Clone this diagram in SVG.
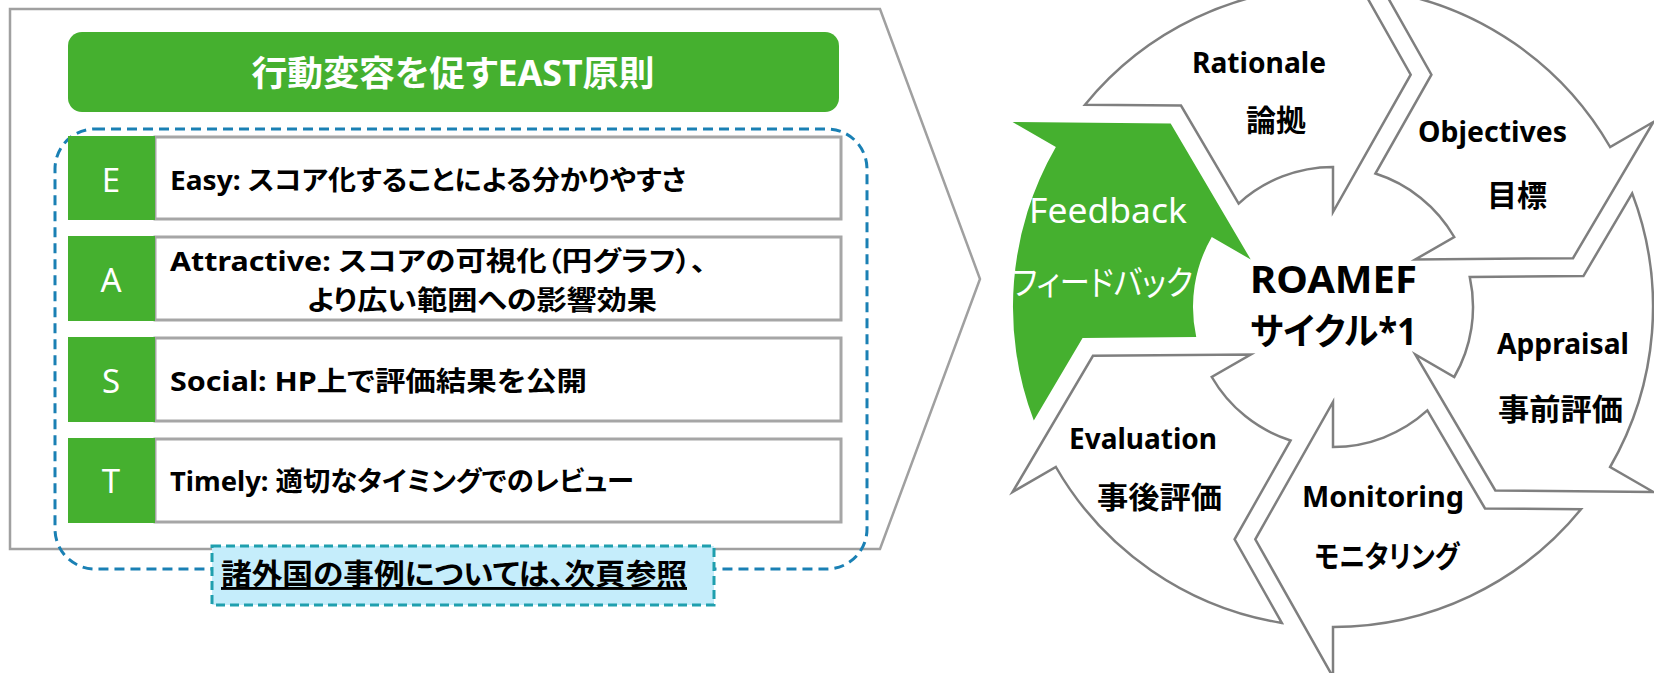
<svg xmlns="http://www.w3.org/2000/svg" xmlns:xlink="http://www.w3.org/1999/xlink" width="1654" height="673" viewBox="0 0 1654 673">
<style>
  .jp { font-family: "Noto Sans", "Noto Sans CJK JP", sans-serif; font-feature-settings: "palt"; }
  .b { font-weight: 700; }
  .rowtxt { font-size: 27px; fill: #000; }
  .letter { font-family: "Noto Sans", sans-serif; font-size: 33px; fill: #fff; text-anchor: middle; }
  .lbl { font-size: 28px; fill: #000; text-anchor: middle; }
  .lblj { font-size: 30px; fill: #000; text-anchor: middle; }
  .green { fill: #45b02f; }
  .rowbox { fill: #fff; stroke: #a6a6a6; stroke-width: 3; }
  .seg { fill: #fff; stroke: #7f7f7f; stroke-width: 2.5; stroke-linejoin: miter; }
  .segg { fill: #45b02f; stroke: none; }
</style>
<defs>
  <path id="arrow" d="M-248,-202.3 A320,320 0 0 1 0,-320 L0,-370 L77.7,-232.3 L0,-95 L0,-140 A140,140 0 0 0 -94.35,-103.45 L-152,-201.4 Z"/>
</defs>
<rect x="0" y="0" width="1654" height="673" fill="#fff"/>

<g id="east-panel">
  <polygon points="10,9 880,9 980,279 880,549 10,549" fill="#fff" stroke="#a0a0a0" stroke-width="2.5"/>
</g>

<g id="title">
  <rect x="68" y="32" width="771" height="80" rx="14" class="green"/>
  <text x="453" y="86" class="jp b" font-size="35" fill="#fff" text-anchor="middle" textLength="403" lengthAdjust="spacingAndGlyphs">行動変容を促すEAST原則</text>
</g>

<g id="east-frame">
  <rect x="55" y="129" width="812" height="440" rx="40" fill="none" stroke="#1a80b4" stroke-width="3" stroke-dasharray="10 6"/>
</g>

<g id="row-e">
  <rect x="155" y="137" width="686" height="82" class="rowbox"/>
  <rect x="68" y="136" width="87" height="84" class="green"/>
  <text x="111" y="192" class="letter">E</text>
  <text x="170" y="190" class="jp b rowtxt" textLength="516" lengthAdjust="spacingAndGlyphs">Easy: スコア化することによる分かりやすさ</text>
</g>

<g id="row-a">
  <rect x="155" y="237" width="686" height="83" class="rowbox"/>
  <rect x="68" y="236" width="87" height="85" class="green"/>
  <text x="111" y="292" class="letter">A</text>
  <text x="170" y="271" class="jp b rowtxt" textLength="536" lengthAdjust="spacingAndGlyphs">Attractive: スコアの可視化（円グラフ）、</text>
  <text x="307" y="310" class="jp b rowtxt" textLength="350" lengthAdjust="spacingAndGlyphs">より広い範囲への影響効果</text>
</g>

<g id="row-s">
  <rect x="155" y="338" width="686" height="83" class="rowbox"/>
  <rect x="68" y="337" width="87" height="85" class="green"/>
  <text x="111" y="393" class="letter">S</text>
  <text x="170" y="391" class="jp b rowtxt" textLength="417" lengthAdjust="spacingAndGlyphs">Social: HP上で評価結果を公開</text>
</g>

<g id="row-t">
  <rect x="155" y="439" width="686" height="83" class="rowbox"/>
  <rect x="68" y="438" width="87" height="85" class="green"/>
  <text x="111" y="493" class="letter">T</text>
  <text x="170" y="491" class="jp b rowtxt" textLength="464" lengthAdjust="spacingAndGlyphs">Timely: 適切なタイミングでのレビュー</text>
</g>

<g id="note">
  <rect x="212" y="546" width="502" height="59" fill="#c5edfb" stroke="#1f9fae" stroke-width="3" stroke-dasharray="9 5"/>
  <text x="221" y="585" class="jp b" font-size="29" fill="#000" text-decoration="underline" style="text-decoration:underline" textLength="466" lengthAdjust="spacingAndGlyphs">諸外国の事例については、次頁参照</text>
</g>

<g id="rationale">
  <use xlink:href="#arrow" href="#arrow" class="seg" transform="translate(1333 307)"/>
  <text x="1259" y="73" class="jp b lbl" textLength="134" lengthAdjust="spacingAndGlyphs">Rationale</text>
  <text x="1276" y="131" class="jp b lblj">論拠</text>
</g>

<g id="objectives">
  <use xlink:href="#arrow" href="#arrow" class="seg" transform="translate(1333 307) rotate(60)"/>
  <text x="1492.5" y="142" class="jp b lbl" textLength="149" lengthAdjust="spacingAndGlyphs">Objectives</text>
  <text x="1517" y="206" class="jp b lblj">目標</text>
</g>

<g id="appraisal">
  <use xlink:href="#arrow" href="#arrow" class="seg" transform="translate(1333 307) rotate(120)"/>
  <text x="1563" y="354" class="jp b lbl" textLength="132" lengthAdjust="spacingAndGlyphs">Appraisal</text>
  <text x="1560.5" y="420" class="jp b lblj" textLength="125" lengthAdjust="spacingAndGlyphs">事前評価</text>
</g>

<g id="monitoring">
  <use xlink:href="#arrow" href="#arrow" class="seg" transform="translate(1333 307) rotate(180)"/>
  <text x="1383" y="507" class="jp b lbl" textLength="162" lengthAdjust="spacingAndGlyphs">Monitoring</text>
  <text x="1387" y="567" class="jp b lblj" textLength="145" lengthAdjust="spacingAndGlyphs">モニタリング</text>
</g>

<g id="evaluation">
  <use xlink:href="#arrow" href="#arrow" class="seg" transform="translate(1333 307) rotate(240)"/>
  <text x="1143" y="449" class="jp b lbl" textLength="148" lengthAdjust="spacingAndGlyphs">Evaluation</text>
  <text x="1159.5" y="508" class="jp b lblj" textLength="125" lengthAdjust="spacingAndGlyphs">事後評価</text>
</g>

<g id="feedback">
  <use xlink:href="#arrow" href="#arrow" class="segg" transform="translate(1333 307) rotate(300)"/>
  <text x="1108" y="223" class="jp" font-size="35" fill="#fff" text-anchor="middle" textLength="158" lengthAdjust="spacingAndGlyphs">Feedback</text>
  <text x="1102.5" y="295" class="jp" font-size="34" fill="#fff" text-anchor="middle" textLength="181" lengthAdjust="spacingAndGlyphs">フィードバック</text>
</g>

<g id="roamef">
  <text x="1333.5" y="293" class="jp b" font-size="37" fill="#000" text-anchor="middle" textLength="167" lengthAdjust="spacingAndGlyphs">ROAMEF</text>
  <text x="1333.5" y="345" class="jp b" font-size="37" fill="#000" text-anchor="middle" textLength="167" lengthAdjust="spacingAndGlyphs">サイクル*1</text>
</g>
</svg>
